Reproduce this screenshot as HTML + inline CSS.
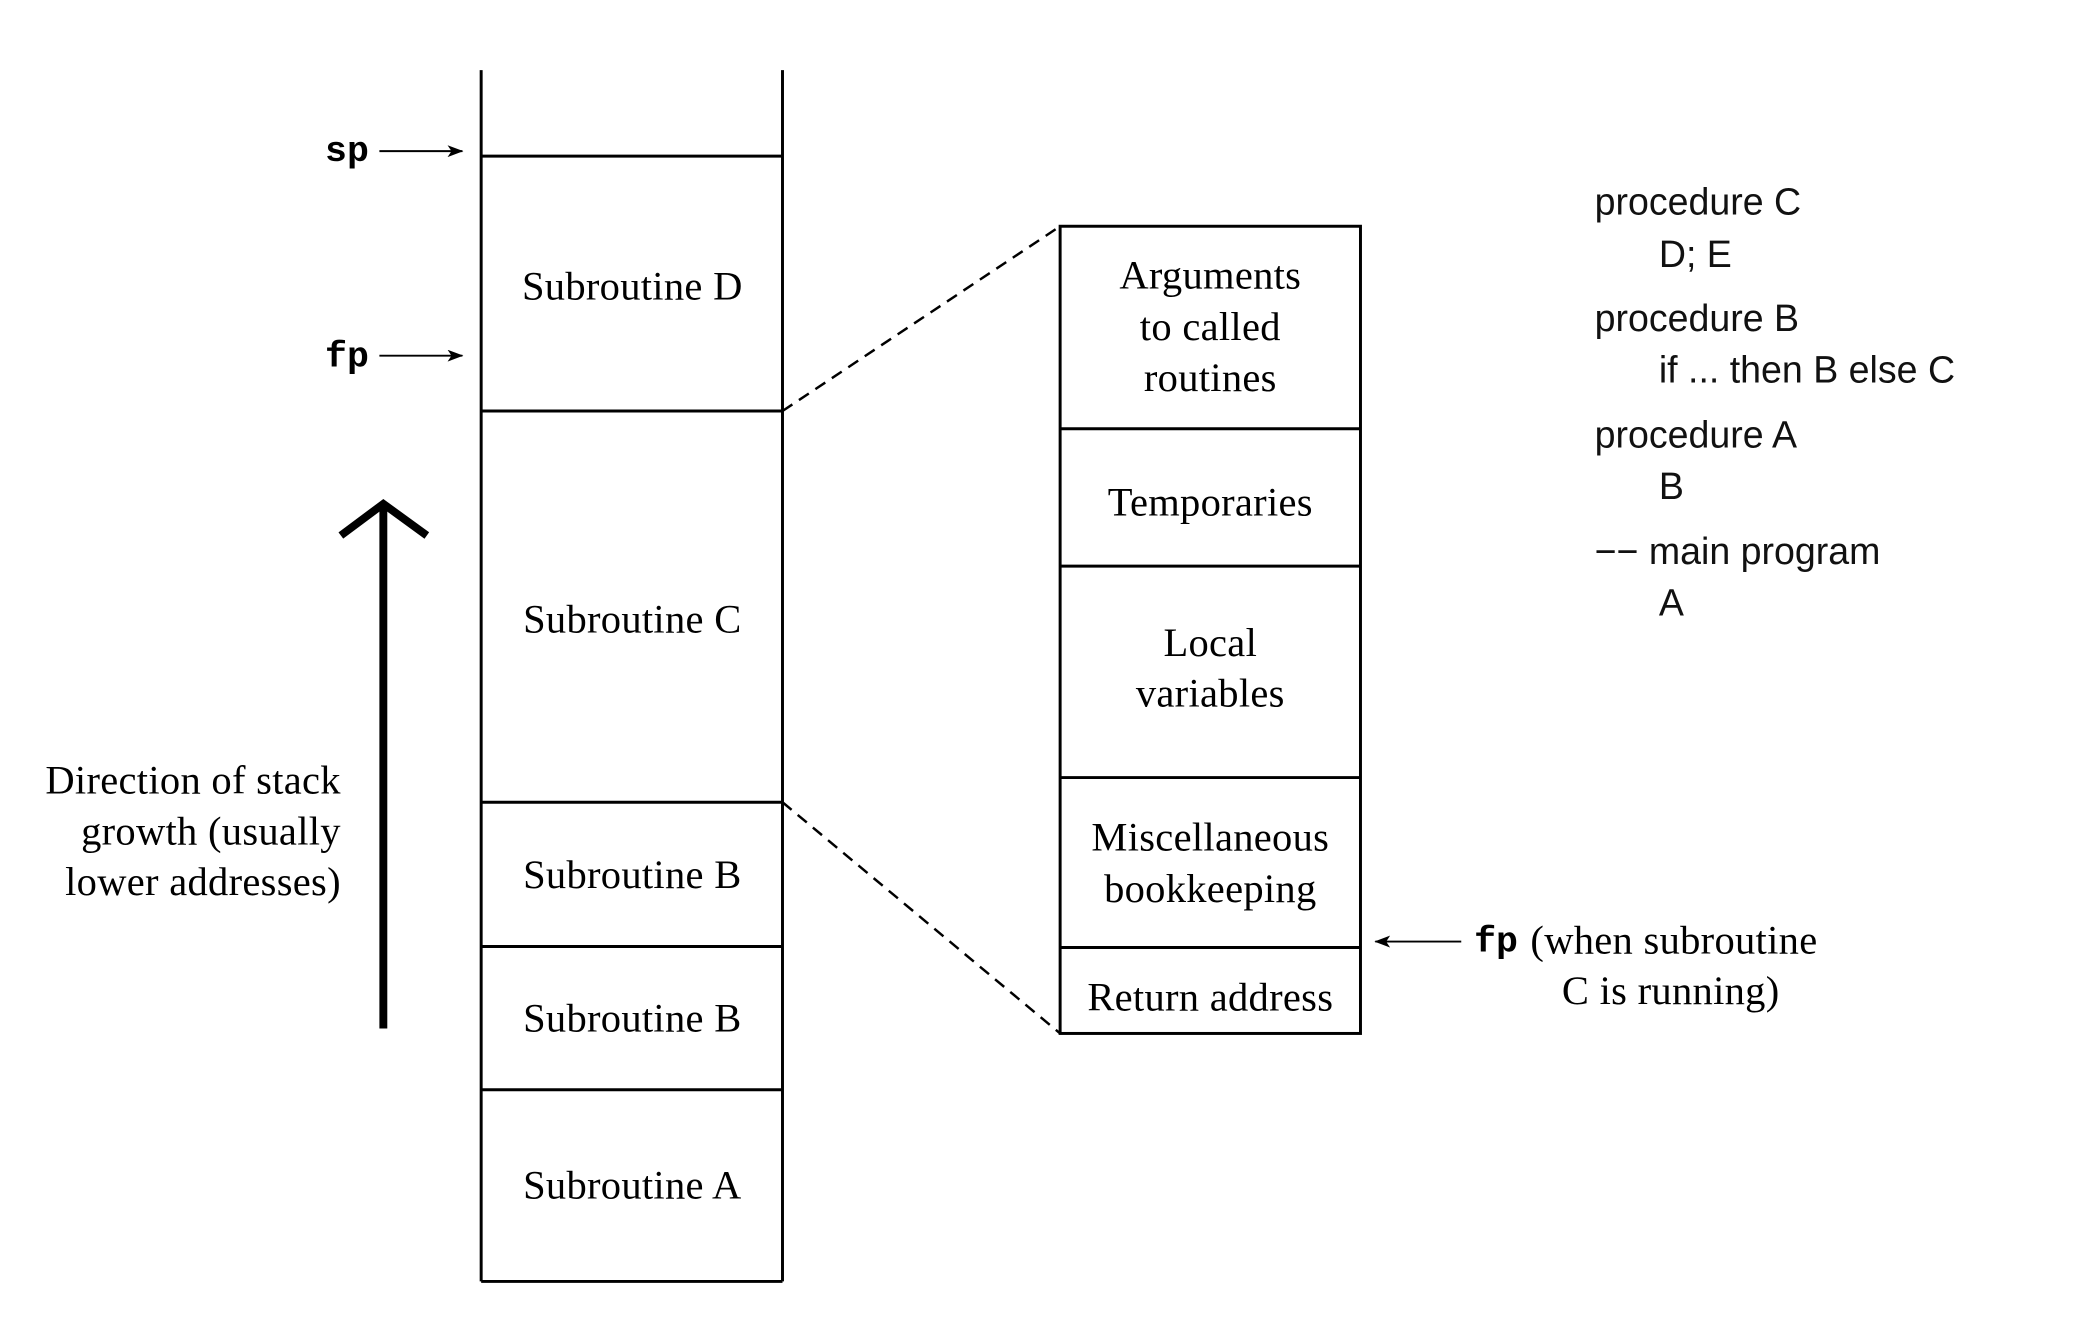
<!DOCTYPE html>
<html><head><meta charset="utf-8"><style>
html,body{margin:0;padding:0;background:#fff}
svg{display:block}
.s{font-family:"Liberation Serif",serif;font-size:41px;fill:#000;letter-spacing:0.3px}
.a{font-family:"Liberation Sans",sans-serif;font-size:38px;fill:#111}
.m{font-family:"Liberation Mono",monospace;font-size:37px;font-weight:bold;fill:#000}
</style></head><body>
<svg width="2074" height="1320" viewBox="0 0 2074 1320" xmlns="http://www.w3.org/2000/svg">
<defs><marker id="ah" markerWidth="16" markerHeight="12" refX="15" refY="6" orient="auto" markerUnits="userSpaceOnUse"><path d="M0,0 L16,6 L0,12 L4,6 z" fill="#000"/></marker></defs>
<g transform="scale(0.988)">
<g stroke="#000" stroke-width="3" fill="none">
<line x1="487" y1="71" x2="487" y2="1297"/>
<line x1="792" y1="71" x2="792" y2="1297"/>
<line x1="487" y1="1297" x2="792" y2="1297"/>
<line x1="487" y1="158" x2="792" y2="158"/>
<line x1="487" y1="416" x2="792" y2="416"/>
<line x1="487" y1="812" x2="792" y2="812"/>
<line x1="487" y1="958" x2="792" y2="958"/>
<line x1="487" y1="1103" x2="792" y2="1103"/>
<rect x="1073" y="229" width="304" height="817"/>
<line x1="1073" y1="434" x2="1377" y2="434"/>
<line x1="1073" y1="573" x2="1377" y2="573"/>
<line x1="1073" y1="787" x2="1377" y2="787"/>
<line x1="1073" y1="959" x2="1377" y2="959"/>
<line x1="792" y1="416" x2="1073" y2="229" stroke-dasharray="12,8" stroke-width="2.5"/>
<line x1="792" y1="812" x2="1073" y2="1046" stroke-dasharray="12,8" stroke-width="2.5"/>
</g>
<g stroke="#000" stroke-width="2" fill="none">
<line x1="384" y1="153" x2="468" y2="153" marker-end="url(#ah)"/>
<line x1="384" y1="360" x2="468" y2="360" marker-end="url(#ah)"/>
<line x1="1479" y1="953" x2="1392" y2="953" marker-end="url(#ah)"/>
</g>
<g stroke="#000" stroke-width="8" fill="none">
<line x1="388" y1="1041" x2="388" y2="510"/>
<polyline points="345,542 388,510 432,542"/>
</g>
<text class="m" x="329" y="163">sp</text>
<text class="m" x="329" y="371">fp</text>
<g class="s" text-anchor="middle">
<text x="640" y="303">Subroutine D</text>
<text x="640" y="640">Subroutine C</text>
<text x="640" y="899">Subroutine B</text>
<text x="640" y="1044">Subroutine B</text>
<text x="640" y="1213">Subroutine A</text>
<text x="1225" y="292">Arguments</text>
<text x="1225" y="344">to called</text>
<text x="1225" y="396">routines</text>
<text x="1225" y="522">Temporaries</text>
<text x="1225" y="664">Local</text>
<text x="1225" y="715">variables</text>
<text x="1225" y="861">Miscellaneous</text>
<text x="1225" y="913">bookkeeping</text>
<text x="1225" y="1023">Return address</text>
<text x="1691" y="1016">C is running)</text>
</g>
<g class="s" text-anchor="end">
<text x="345" y="803">Direction of stack</text>
<text x="345" y="855">growth (usually</text>
<text x="345" y="906">lower addresses)</text>
</g>
<text class="m" x="1492" y="963">fp</text>
<text class="s" x="1549" y="965">(when subroutine</text>
<g class="a">
<text x="1614" y="217">procedure C</text>
<text x="1679" y="270">D;  E</text>
<text x="1614" y="335">procedure B</text>
<text x="1679" y="387">if ... then B else C</text>
<text x="1614" y="453">procedure A</text>
<text x="1679" y="505">B</text>
<text x="1614" y="571">−− main program</text>
<text x="1679" y="623">A</text>
</g>
</g>
</svg>
</body></html>
